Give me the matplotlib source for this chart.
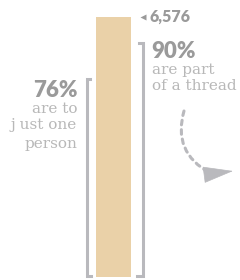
import matplotlib
matplotlib.use("Agg")
import matplotlib.pyplot as plt
from matplotlib.patches import FancyArrowPatch

# data
total = 6576
share_thread = 0.90
share_one_person = 0.76
total_label = "6,576"

bar_color = "#ead1a8"
bracket_color = "#b9b9bd"
bold_gray = "#9a9a9a"
light_gray = "#b8b8b8"

fig = plt.figure(figsize=(2.4, 2.8), dpi=100)
ax = fig.add_axes([0, 0, 1, 1])

# pixel-based helpers (y in data units of bar value)
scale = 260 / total
def vy(pix):
    return (277 - pix) / scale

ax.set_xlim(0, 240)
ax.set_ylim(vy(280), vy(0))
ax.axis("off")

ax.bar([113.5], [total], width=35, bottom=0, color=bar_color)

# right bracket (90%)
top90 = total * share_thread
ax.plot([139, 142.5, 142.5, 137], [top90, top90, vy(276), vy(276)],
        color=bracket_color, lw=2.2, solid_joinstyle="miter")
# left bracket (76%)
top76 = total * share_one_person
ax.plot([90, 86.5, 86.5, 91], [top76, top76, vy(276), vy(276)],
        color=bracket_color, lw=2.2, solid_joinstyle="miter")

bold = dict(family="Lato", weight="heavy", color=bold_gray)
serif = dict(family="DejaVu Serif", weight="light", color=light_gray, fontsize=11)

ax.plot([143], [total], marker="<", ms=5, color=bold_gray, mec="none")
ax.text(149, total, total_label, fontsize=11.5, va="center", ha="left", **bold)

ax.text(151, vy(52), "90%", fontsize=16, va="center", ha="left", **bold)
ax.text(152, vy(70), "are part", va="center", ha="left", **serif)
ax.text(152, vy(86), "of a thread", va="center", ha="left", **serif)

ax.text(78, vy(91), "76%", fontsize=16, va="center", ha="right", **bold)
ax.text(77, vy(109), "are to", va="center", ha="right", **serif)
ax.text(77, vy(125), "j ust one", va="center", ha="right", **serif)
ax.text(77, vy(144), "person", va="center", ha="right", **serif)

# dashed curve, then a solid head
curve = FancyArrowPatch((184, vy(111)), (210, vy(173)),
                        connectionstyle="arc3,rad=0.4", arrowstyle="-",
                        color=bracket_color, lw=2.2, linestyle=(0, (1.5, 1.6)),
                        mutation_scale=1, shrinkA=0, shrinkB=0)
ax.add_patch(curve)
head = FancyArrowPatch((210, vy(174)), (233, vy(171)),
                       arrowstyle="-|>,head_length=20,head_width=5.5",
                       color=bracket_color, lw=0.5, mutation_scale=1,
                       shrinkA=0, shrinkB=0)
ax.add_patch(head)

fig.savefig("out.png", dpi=100)
